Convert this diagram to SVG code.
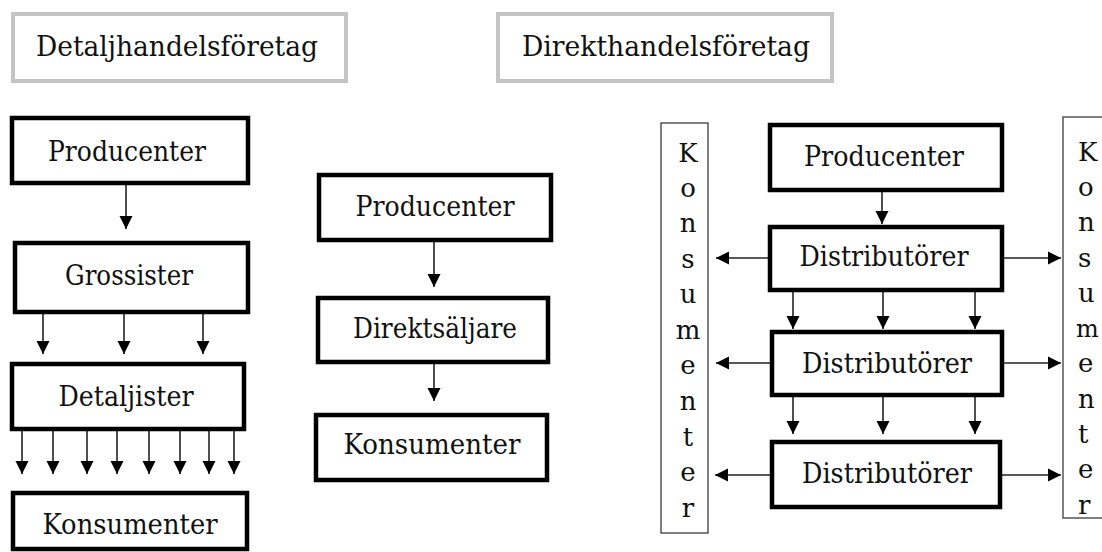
<svg xmlns="http://www.w3.org/2000/svg" width="1102" height="552" viewBox="0 0 1102 552">
<defs>
<style>
.t{font-family:"DejaVu Serif","Liberation Serif",serif;font-size:27px;fill:#111;text-anchor:middle}
.tt{font-family:"DejaVu Serif","Liberation Serif",serif;font-size:28px;fill:#111;text-anchor:middle}
.v{font-family:"DejaVu Serif","Liberation Serif",serif;font-size:26px;fill:#111}
.box{fill:#fff;stroke:#000;stroke-width:4.5}
.title{fill:#fff;stroke:#c4c4c4;stroke-width:4}
.thin{fill:#fff;stroke:#555;stroke-width:1.5}
.c{stroke:#222;stroke-width:1.6;fill:none;marker-end:url(#ah)}
</style>
<marker id="ah" markerUnits="userSpaceOnUse" markerWidth="14" markerHeight="14" refX="13" refY="7" orient="auto">
<path d="M0,0.5 L13,7 L0,13.5 z" fill="#000"/>
</marker>
</defs>
<rect width="1102" height="552" fill="#fff"/>

<g id="title1">
<rect class="title" x="13" y="14" width="333" height="67"/>
<text class="tt" x="177" y="56" textLength="282" lengthAdjust="spacingAndGlyphs">Detaljhandelsföretag</text>
</g>
<g id="title2">
<rect class="title" x="498" y="14" width="334" height="67"/>
<text class="tt" x="666" y="56" textLength="288" lengthAdjust="spacingAndGlyphs">Direkthandelsföretag</text>
</g>

<g id="connectors">
<line class="c" x1="126" y1="185" x2="126" y2="229"/>
<line class="c" x1="43" y1="314" x2="43" y2="354"/>
<line class="c" x1="124" y1="314" x2="124" y2="354"/>
<line class="c" x1="203" y1="314" x2="203" y2="354"/>
<line class="c" x1="22" y1="431" x2="22" y2="474"/>
<line class="c" x1="53" y1="431" x2="53" y2="474"/>
<line class="c" x1="87" y1="431" x2="87" y2="474"/>
<line class="c" x1="117" y1="431" x2="117" y2="474"/>
<line class="c" x1="149" y1="431" x2="149" y2="474"/>
<line class="c" x1="180" y1="431" x2="180" y2="474"/>
<line class="c" x1="209" y1="431" x2="209" y2="474"/>
<line class="c" x1="234" y1="431" x2="234" y2="474"/>
<line class="c" x1="434" y1="242" x2="434" y2="287"/>
<line class="c" x1="434" y1="364" x2="434" y2="401"/>
<line class="c" x1="882" y1="192" x2="882" y2="224"/>
<line class="c" x1="793" y1="292" x2="793" y2="329"/>
<line class="c" x1="883" y1="292" x2="883" y2="329"/>
<line class="c" x1="975" y1="292" x2="975" y2="329"/>
<line class="c" x1="793" y1="397" x2="793" y2="434"/>
<line class="c" x1="883" y1="397" x2="883" y2="434"/>
<line class="c" x1="975" y1="397" x2="975" y2="434"/>
<line class="c" x1="768" y1="258" x2="716" y2="258"/>
<line class="c" x1="770" y1="363" x2="716" y2="363"/>
<line class="c" x1="770" y1="475" x2="715" y2="475"/>
<line class="c" x1="1004" y1="258" x2="1061" y2="258"/>
<line class="c" x1="1004" y1="363" x2="1061" y2="363"/>
<line class="c" x1="1002" y1="475" x2="1061" y2="475"/>
</g>

<g id="l-producenter">
<rect class="box" x="12" y="118" width="236" height="65"/>
<text class="t" x="127" y="161" textLength="158" lengthAdjust="spacingAndGlyphs">Producenter</text>
</g>
<g id="l-grossister">
<rect class="box" x="15" y="243" width="233" height="69"/>
<text class="t" x="129" y="285" textLength="128" lengthAdjust="spacingAndGlyphs">Grossister</text>
</g>
<g id="l-detaljister">
<rect class="box" x="12" y="364" width="232" height="65"/>
<text class="t" x="126" y="406" textLength="135" lengthAdjust="spacingAndGlyphs">Detaljister</text>
</g>
<g id="l-konsumenter">
<rect class="box" x="13" y="493" width="234" height="56"/>
<text class="t" x="130" y="534" textLength="175" lengthAdjust="spacingAndGlyphs">Konsumenter</text>
</g>

<g id="m-producenter">
<rect class="box" x="319" y="175" width="232" height="65"/>
<text class="t" x="435" y="216" textLength="159" lengthAdjust="spacingAndGlyphs">Producenter</text>
</g>
<g id="m-direktsaljare">
<rect class="box" x="318" y="298" width="230" height="64"/>
<text class="t" x="435" y="338" textLength="164" lengthAdjust="spacingAndGlyphs">Direktsäljare</text>
</g>
<g id="m-konsumenter">
<rect class="box" x="316" y="415" width="231" height="65"/>
<text class="t" x="432" y="454" textLength="177" lengthAdjust="spacingAndGlyphs">Konsumenter</text>
</g>

<g id="r-konsumenter-left">
<rect class="thin" x="661" y="123" width="47" height="410"/>
<text class="v" text-anchor="middle">
<tspan x="688" y="162">K</tspan><tspan x="688" y="197">o</tspan><tspan x="688" y="232">n</tspan><tspan x="688" y="268">s</tspan><tspan x="688" y="303">u</tspan><tspan x="688" y="339">m</tspan><tspan x="688" y="374">e</tspan><tspan x="688" y="410">n</tspan><tspan x="688" y="446">t</tspan><tspan x="688" y="481">e</tspan><tspan x="688" y="517">r</tspan>
</text>
</g>

<g id="r-producenter">
<rect class="box" x="770" y="125" width="232" height="65"/>
<text class="t" x="884" y="166" textLength="160" lengthAdjust="spacingAndGlyphs">Producenter</text>
</g>
<g id="r-distributorer1">
<rect class="box" x="770" y="227" width="232" height="63"/>
<text class="t" x="884" y="266" textLength="169" lengthAdjust="spacingAndGlyphs">Distributörer</text>
</g>
<g id="r-distributorer2">
<rect class="box" x="772" y="332" width="230" height="63"/>
<text class="t" x="887" y="373" textLength="170" lengthAdjust="spacingAndGlyphs">Distributörer</text>
</g>
<g id="r-distributorer3">
<rect class="box" x="772" y="442" width="228" height="65"/>
<text class="t" x="887" y="483" textLength="170" lengthAdjust="spacingAndGlyphs">Distributörer</text>
</g>

<g id="r-konsumenter-right">
<rect class="thin" x="1063" y="117" width="40" height="401"/>
<text class="v">
<tspan x="1078" y="161">K</tspan><tspan x="1078" y="196">o</tspan><tspan x="1078" y="231">n</tspan><tspan x="1078" y="267">s</tspan><tspan x="1078" y="302">u</tspan><tspan x="1076" y="337" font-size="24">m</tspan><tspan x="1078" y="372">e</tspan><tspan x="1078" y="408">n</tspan><tspan x="1078" y="443">t</tspan><tspan x="1078" y="478">e</tspan><tspan x="1078" y="514">r</tspan>
</text>
</g>
</svg>
